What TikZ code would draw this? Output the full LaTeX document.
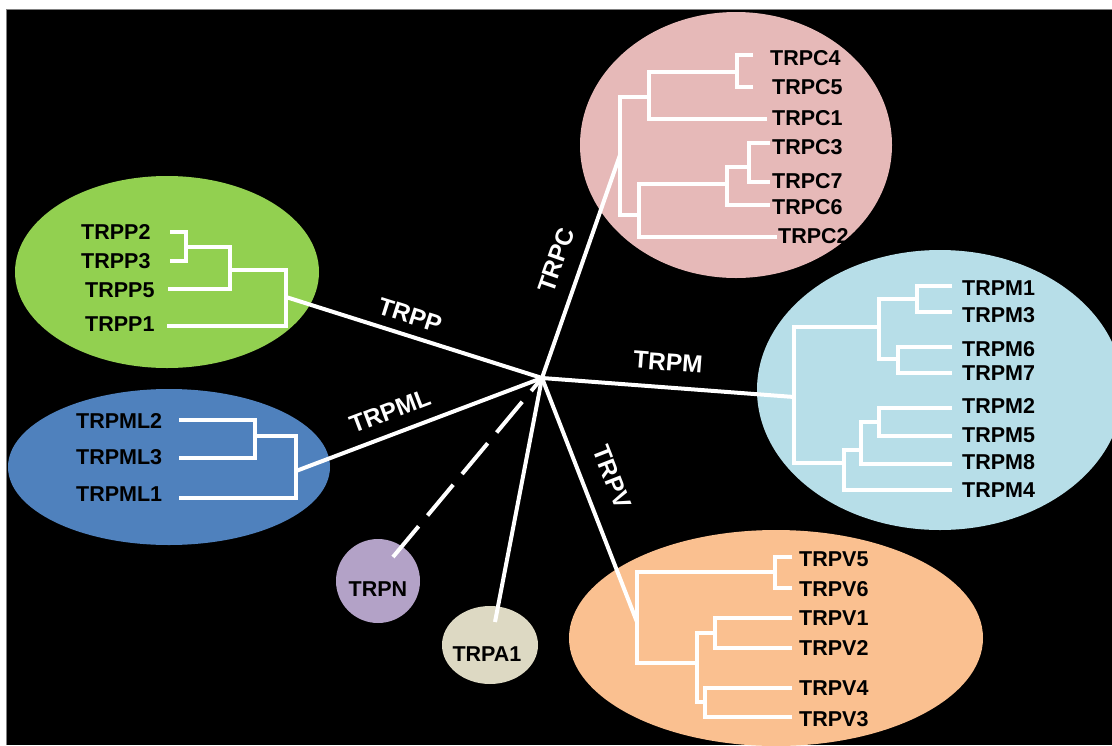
\documentclass[tikz,border=0pt]{standalone}
\usepackage{fontspec}
\setmainfont{Liberation Sans}
\usetikzlibrary{shapes.geometric}
\definecolor{cP}{HTML}{92D050}
\definecolor{cML}{HTML}{4F81BD}
\definecolor{cC}{HTML}{E6B9B8}
\definecolor{cM}{HTML}{B7DEE8}
\definecolor{cV}{HTML}{FAC090}
\definecolor{cN}{HTML}{B3A2C7}
\definecolor{cA}{HTML}{DDD9C3}
\tikzset{
  clade/.style={ellipse, inner sep=0pt, outer sep=0pt, draw=none},
  br/.style={white, line width=4pt, line join=miter},
  spoke/.style={white, line width=4pt},
  leaf/.style={anchor=west, inner sep=0pt, text height=15.5pt, text depth=0pt,
    font=\fontsize{21.5}{21.5}\selectfont\bfseries, text=black},
  fam/.style={inner sep=0pt, text height=17pt, text depth=0pt,
    font=\fontsize{24.5}{24.5}\selectfont\bfseries, text=white},
}
\begin{document}
\begin{tikzpicture}[x=1pt,y=-1pt]
\useasboundingbox (0,0) rectangle (1112,745);
\fill[white] (0,0) rectangle (1112,745);
\fill[black] (6,9) rectangle (1112,745);
\draw[gray, line width=1pt] (6,745) -- (6,9) -- (1112,9);

\begin{scope}
\clip (6,9) rectangle (1112,745);

% clade backgrounds
\node[clade, fill=cP,  minimum width=304pt, minimum height=192pt] (gP)  at (167,272) {};
\node[clade, fill=cML, minimum width=322pt, minimum height=156pt] (gML) at (169,467) {};
\node[clade, fill=cC,  minimum width=312pt, minimum height=266pt] (gC)  at (736,145) {};
\node[clade, fill=cM,  minimum width=366pt, minimum height=280pt] (gM)  at (940,390) {};
\node[clade, fill=cV,  minimum width=414pt, minimum height=216pt] (gV)  at (776,638) {};
\node[clade, fill=cN,  minimum width=84pt,  minimum height=84pt]  (gN)  at (378,581) {};
\node[clade, fill=cA,  minimum width=96pt,  minimum height=78pt]  (gA)  at (490,645) {};

% attachment points of the spokes
\coordinate (hub)   at (542,378);
\coordinate (rootP) at (286,297);
\coordinate (rootML) at (296,471);
\coordinate (rootC) at (620,155);
\coordinate (rootM) at (794,397);
\coordinate (rootV) at (637,622);
\coordinate (tipA)  at (495,622);
\coordinate (tipN)  at (393,557);

% spokes
\draw[spoke] (rootP) -- (hub);
\draw[spoke] (rootML) -- (hub);
\draw[spoke] (hub) -- (rootC);
\draw[spoke] (hub) -- (rootM);
\draw[spoke] (hub) -- (rootV);
\draw[spoke] (hub) -- (tipA);
\draw[spoke, dash pattern=on 40pt off 14pt] (tipN) -- (hub);

% TRPP tree
\draw[br] (170,232) -- (186,232) -- (186,261) -- (170,261);
\draw[br] (186,247) -- (230,247) -- (230,289) -- (168,289);
\draw[br] (230,270) -- (286,270) -- (286,326) -- (167,326);
\node[leaf] (p2) at (81,232) {TRPP2};
\node[leaf] (p3) at (81,261) {TRPP3};
\node[leaf] (p5) at (85,290) {TRPP5};
\node[leaf] (p1) at (85,324) {TRPP1};

% TRPML tree
\draw[br] (179,420) -- (255,420) -- (255,458) -- (179,458);
\draw[br] (255,436) -- (296,436) -- (296,498) -- (179,498);
\node[leaf] (ml2) at (76,421) {TRPML2};
\node[leaf] (ml3) at (76,457) {TRPML3};
\node[leaf] (ml1) at (76,494) {TRPML1};

% TRPC tree
\draw[br] (753,55) -- (737,55) -- (737,87) -- (753,87);
\draw[br] (737,72) -- (649,72) -- (649,119) -- (767,119);
\draw[br] (649,97) -- (620,97) -- (620,215) -- (639,215);
\draw[br] (770,143) -- (749,143) -- (749,182) -- (770,182);
\draw[br] (749,167) -- (727,167) -- (727,205) -- (770,205);
\draw[br] (727,184) -- (639,184) -- (639,237) -- (777,237);
\node[leaf] (c4) at (770,58) {TRPC4};
\node[leaf] (c5) at (772,87) {TRPC5};
\node[leaf] (c1) at (772,118) {TRPC1};
\node[leaf] (c3) at (772,147) {TRPC3};
\node[leaf] (c7) at (772,181) {TRPC7};
\node[leaf] (c6) at (772,207) {TRPC6};
\node[leaf] (c2) at (778,236) {TRPC2};

% TRPM tree
\draw[br] (952,286) -- (917,286) -- (917,312) -- (952,312);
\draw[br] (917,299) -- (879,299) -- (879,359) -- (898,359);
\draw[br] (952,347) -- (898,347) -- (898,373) -- (952,373);
\draw[br] (879,327) -- (794,327) -- (794,463) -- (844,463);
\draw[br] (952,408) -- (879,408) -- (879,436) -- (952,436);
\draw[br] (879,422) -- (861,422) -- (861,464) -- (952,464);
\draw[br] (861,450) -- (844,450) -- (844,490) -- (952,490);
\node[leaf] (m1) at (962,288) {TRPM1};
\node[leaf] (m3) at (962,315) {TRPM3};
\node[leaf] (m6) at (962,349) {TRPM6};
\node[leaf] (m7) at (962,373) {TRPM7};
\node[leaf] (m2) at (962,406) {TRPM2};
\node[leaf] (m5) at (962,435) {TRPM5};
\node[leaf] (m8) at (962,462) {TRPM8};
\node[leaf] (m4) at (962,490) {TRPM4};

% TRPV tree
\draw[br] (792,557) -- (775,557) -- (775,588) -- (792,588);
\draw[br] (775,572) -- (637,572) -- (637,663) -- (697,663);
\draw[br] (792,618) -- (715,618) -- (715,648) -- (792,648);
\draw[br] (715,633) -- (697,633) -- (697,702) -- (705,702);
\draw[br] (792,688) -- (705,688) -- (705,717) -- (792,717);
\node[leaf] (v5) at (799,559) {TRPV5};
\node[leaf] (v6) at (799,589) {TRPV6};
\node[leaf] (v1) at (799,618) {TRPV1};
\node[leaf] (v2) at (799,648) {TRPV2};
\node[leaf] (v4) at (799,688) {TRPV4};
\node[leaf] (v3) at (799,719) {TRPV3};

% single-member families
\node[leaf, anchor=center] (tN) at (378,589) {TRPN};
\node[leaf, anchor=center] (tA) at (487,654) {TRPA1};

% family names along the spokes
\node[fam, rotate=-17.7] (lP)  at (410,315) {TRPP};
\node[fam, rotate=20.8]  (lML) at (390,411) {TRPML};
\node[fam, rotate=70.7]  (lC)  at (556,260) {TRPC};
\node[fam, rotate=-4.3]  (lM)  at (668,362) {TRPM};
\node[fam, rotate=-68.7] (lV)  at (612,477) {TRPV};
\end{scope}
\end{tikzpicture}
\end{document}
